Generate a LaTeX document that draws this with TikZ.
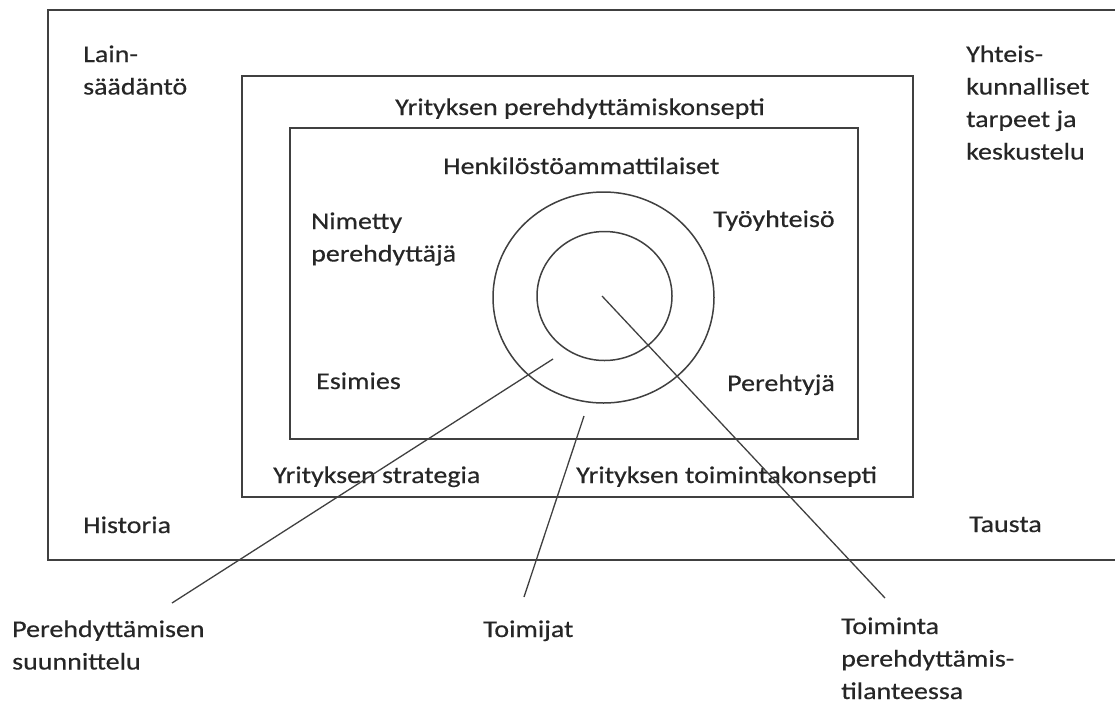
\documentclass[tikz,border=0pt]{standalone}
\usepackage{fontspec}
\setmainfont[FakeStretch=1.165,FakeBold=0.4]{Carlito}
\newcommand{\mlines}[1]{\begin{tabular}[t]{@{}l@{}}#1\end{tabular}}
\begin{document}
\begin{tikzpicture}[x=1pt,y=-1pt,
  frame/.style={draw=black!75,line width=1.7pt},
  ring/.style={draw=black!75,line width=1.5pt},
  link/.style={draw=black!75,line width=1.3pt},
  lbl/.style={anchor=base west,inner sep=0pt,text=black!85,font=\fontsize{24}{32.5}\selectfont}]
\useasboundingbox (0,0) rectangle (1115,704);
% outer frame (open on the right)
\coordinate (otr) at (1116,10);
\coordinate (otl) at (48,10);
\coordinate (obl) at (48,560);
\coordinate (obr) at (1116,560);
\draw[frame] (otr) -- (otl) -- (obl) -- (obr);
% middle and inner boxes
\draw[frame] (242,76) rectangle (913,497);
\draw[frame] (290,128) rectangle (858,439);
% rings
\draw[ring] (603.5,297.5) ellipse [x radius=110.5,y radius=105.5];
\draw[ring] (604.5,296) ellipse [x radius=67.5,y radius=64.5];
% labels
\node[lbl] (lain) at (83,62) {\mlines{Lain-\\säädäntö}};
\node[lbl] (yht) at (966,62) {\mlines{Yhteis-\\kunnalliset\\tarpeet ja\\keskustelu}};
\node[lbl] (konsepti) at (395,115) {Yrityksen perehdyttämiskonsepti};
\node[lbl] (henk) at (443,174) {Henkilöstöammattilaiset};
\node[lbl] (nimetty) at (311,229) {\mlines{Nimetty\\perehdyttäjä}};
\node[lbl] (tyo) at (713,227) {Työyhteisö};
\node[lbl] (esimies) at (316,389) {Esimies};
\node[lbl] (perehtyja) at (727,391) {Perehtyjä};
\node[lbl] (strategia) at (273,483) {Yrityksen strategia};
\node[lbl] (toimkons) at (576,483) {Yrityksen toimintakonsepti};
\node[lbl] (historia) at (83,533) {Historia};
\node[lbl] (tausta) at (969,532) {Tausta};
\node[lbl] (suunn) at (12,637) {\mlines{Perehdyttämisen\\suunnittelu}};
\node[lbl] (toimijat) at (483,637) {Toimijat};
\node[lbl] (toiminta) at (841,634) {\mlines{Toiminta\\perehdyttämis-\\tilanteessa}};
% connectors
\coordinate (s1) at (553,359);
\coordinate (e1) at (172,603);
\coordinate (s2) at (584,416);
\coordinate (e2) at (524,597);
\coordinate (s3) at (602,296);
\coordinate (e3) at (885,598);
\draw[link] (s1) -- (e1);
\draw[link] (s2) -- (e2);
\draw[link] (s3) -- (e3);
\end{tikzpicture}
\end{document}
